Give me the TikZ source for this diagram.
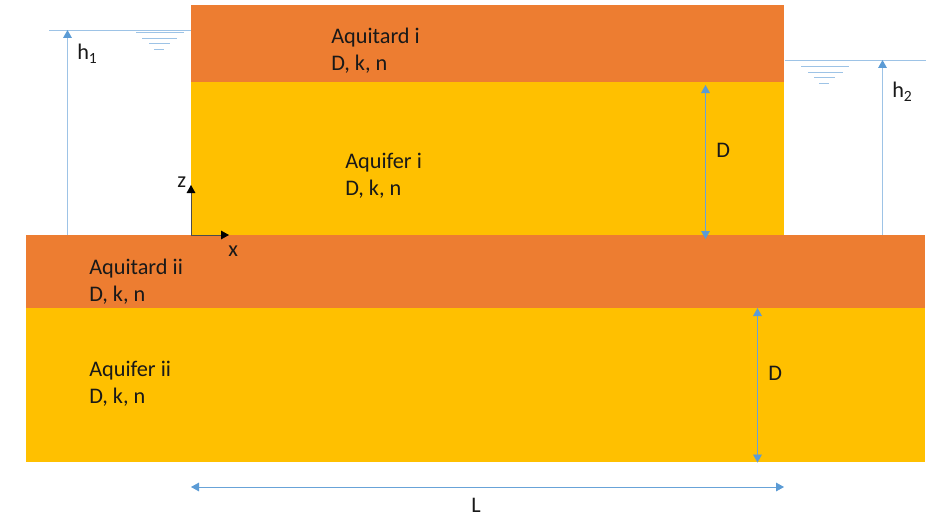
\documentclass[tikz,border=0pt]{standalone}
\usepackage{xcolor}
\usepackage{fontspec}
\setmainfont{Carlito}
\usepackage{tikz}
\usetikzlibrary{arrows.meta,positioning,calc}
\definecolor{aquitardcol}{HTML}{ED7D31}
\definecolor{aquifercol}{HTML}{FFC000}
\definecolor{linecol}{HTML}{9DC3E6}
\definecolor{tipcol}{HTML}{5B9BD5}

\begin{document}
\begin{tikzpicture}[
    x=0.75pt, y=-0.75pt,
    aquitard/.style={rectangle, fill=aquitardcol, inner sep=0pt, anchor=north west},
    aquifer/.style={rectangle, fill=aquifercol, inner sep=0pt, anchor=north west},
    label/.style={font=\fontsize{16.7pt}{20.25pt}\selectfont, text=black!90, align=left, anchor=north west, inner sep=0pt},
    line/.style={draw=linecol, line width=0.7pt, -{Triangle[length=6pt,width=6.5pt,color=tipcol]}},
    both/.style={draw=tipcol!80!linecol, line width=0.6pt, {Triangle[length=6pt,width=6.5pt,color=tipcol]}-{Triangle[length=6pt,width=6.5pt,color=tipcol]}},
    water/.style={draw=linecol, line width=0.7pt},
    axis/.style={draw=black!70, line width=0.6pt, -{Triangle[length=6pt,width=6.5pt,color=black]}}
]
\useasboundingbox (0,0) rectangle (938,517);

\node [aquitard, minimum width=444.75pt, minimum height=57.75pt] (aquitardi) at (191,5) {};
\node [aquifer, minimum width=444.75pt, minimum height=114.75pt] (aquiferi) at (191,82) {};
\node [aquitard, minimum width=674.25pt, minimum height=54.75pt] (aquitardii) at (26,235) {};
\node [aquifer, minimum width=674.25pt, minimum height=115.5pt] (aquiferii) at (26,308) {};

\node [label] (texti) at (331,27.5) {Aquitard i\\D, k, n};
\node [label] (textfi) at (345,153) {Aquifer i\\D, k, n};
\node [label] (textii) at (89,258.5) {Aquitard ii\\D, k, n};
\node [label] (textfii) at (89,360.5) {Aquifer ii\\D, k, n};

% water levels
\coordinate (wl) at (49,30);
\coordinate (wr) at (926,60);
\draw [water] (wl) -- (aquitardi.west |- wl);
\draw [water] (aquitardi.east |- wr) -- (wr);
\coordinate (a1) at (136,32); \coordinate (a2) at (184,32);
\coordinate (b1) at (142,38); \coordinate (b2) at (177,38);
\coordinate (c1) at (149,43); \coordinate (c2) at (170,43);
\coordinate (d1) at (154,49); \coordinate (d2) at (164,49);
\draw [water] (a1) -- (a2);
\draw [water] (b1) -- (b2);
\draw [water] (c1) -- (c2);
\draw [water] (d1) -- (d2);
\coordinate (e1) at (801,66); \coordinate (e2) at (849,66);
\coordinate (f1) at (808,72); \coordinate (f2) at (843,72);
\coordinate (g1) at (814,77); \coordinate (g2) at (835,77);
\coordinate (k1) at (819,83); \coordinate (k2) at (829,83);
\draw [water] (e1) -- (e2);
\draw [water] (f1) -- (f2);
\draw [water] (g1) -- (g2);
\draw [water] (k1) -- (k2);

% heads
\coordinate (hone) at (67.5,30);
\coordinate (htwo) at (882.5,60);
\path [line] (hone |- aquitardii.north) -- (hone);
\path [line] (htwo |- aquitardii.north) -- (htwo);
\node [label] (honelabel) at (77,44) {h\textsubscript{1}};
\node [label] (htwolabel) at (892,82) {h\textsubscript{2}};

% thicknesses
\coordinate (dupper) at (705.5,85);
\coordinate (dbottom) at (705.5,239);
\coordinate (dlower) at (757.5,308);
\path [both] (dupper) -- (dbottom);
\path [both] (dlower) -- (dlower |- aquiferii.south);
\node [label] (dupperlabel) at (716,143) {D};
\node [label] (dlowerlabel) at (768,366) {D};

% length
\coordinate (lleft) at (191,487);
\coordinate (lright) at (784,487);
\path [both] (lleft) -- (lright);
\node [label] (llabel) at (471,498) {L};

% axes
\coordinate (origin) at (191,235);
\coordinate (ztip) at (191,185);
\coordinate (xtip) at (229,235);
\path [axis] (origin) -- (ztip);
\path [axis] (origin) -- (xtip);
\node [label] (zlabel) at (177,177) {z};
\node [label] (xlabel) at (228,246) {x};
\end{tikzpicture}
\end{document}
